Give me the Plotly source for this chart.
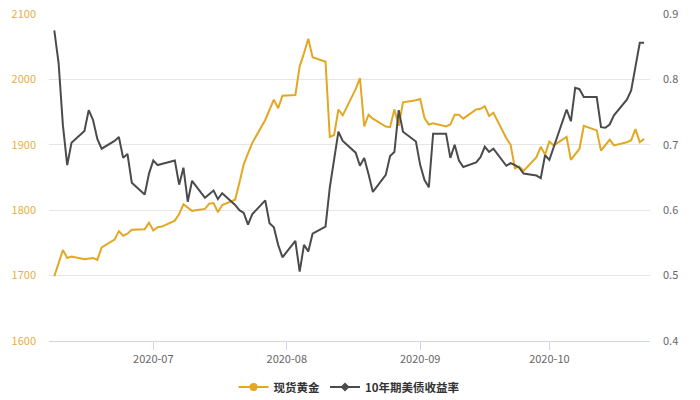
import plotly.graph_objects as go

# trading days, 2020-06-08 .. 2020-10-23
dates = [
    "2020-06-08", "2020-06-09", "2020-06-10", "2020-06-11", "2020-06-12",
    "2020-06-15", "2020-06-16", "2020-06-17", "2020-06-18", "2020-06-19",
    "2020-06-22", "2020-06-23", "2020-06-24", "2020-06-25", "2020-06-26",
    "2020-06-29", "2020-06-30", "2020-07-01", "2020-07-02", "2020-07-03",
    "2020-07-06", "2020-07-07", "2020-07-08", "2020-07-09", "2020-07-10",
    "2020-07-13", "2020-07-14", "2020-07-15", "2020-07-16", "2020-07-17",
    "2020-07-20", "2020-07-21", "2020-07-22", "2020-07-23", "2020-07-24",
    "2020-07-27", "2020-07-28", "2020-07-29", "2020-07-30", "2020-07-31",
    "2020-08-03", "2020-08-04", "2020-08-05", "2020-08-06", "2020-08-07",
    "2020-08-10", "2020-08-11", "2020-08-12", "2020-08-13", "2020-08-14",
    "2020-08-17", "2020-08-18", "2020-08-19", "2020-08-20", "2020-08-21",
    "2020-08-24", "2020-08-25", "2020-08-26", "2020-08-27", "2020-08-28",
    "2020-08-31", "2020-09-01", "2020-09-02", "2020-09-03", "2020-09-04",
    "2020-09-07", "2020-09-08", "2020-09-09", "2020-09-10", "2020-09-11",
    "2020-09-14", "2020-09-15", "2020-09-16", "2020-09-17", "2020-09-18",
    "2020-09-21", "2020-09-22", "2020-09-23", "2020-09-24", "2020-09-25",
    "2020-09-28", "2020-09-29", "2020-09-30", "2020-10-01", "2020-10-02",
    "2020-10-05", "2020-10-06", "2020-10-07", "2020-10-08", "2020-10-09",
    "2020-10-12", "2020-10-13", "2020-10-14", "2020-10-15", "2020-10-16",
    "2020-10-19", "2020-10-20", "2020-10-21", "2020-10-22", "2020-10-23",
]

gold = [
    1699, 1718, 1739, 1727, 1729,
    1725, 1726, 1727, 1724, 1743,
    1755, 1768, 1761, 1764, 1770,
    1771, 1781, 1769, 1774, 1775,
    1784, 1794, 1809, 1804, 1799,
    1802, 1810, 1811, 1797, 1808,
    1816, 1842, 1870, 1887, 1903,
    1938, 1953, 1969, 1956, 1975,
    1976, 2020, 2040, 2062, 2034,
    2027, 1912, 1915, 1954, 1945,
    1985, 2002, 1928, 1946, 1940,
    1928, 1927, 1954, 1929, 1965,
    1968, 1970, 1941, 1931, 1933,
    1928, 1931, 1946, 1946, 1940,
    1954, 1955, 1959, 1944, 1949,
    1910, 1900, 1864, 1867, 1860,
    1881, 1897, 1885, 1905, 1899,
    1912, 1877, 1886, 1894, 1929,
    1922, 1891, 1900, 1908, 1899,
    1904, 1907, 1924, 1904, 1909,
]

us10y = [
    0.875, 0.825, 0.730, 0.669, 0.703,
    0.721, 0.753, 0.738, 0.709, 0.694,
    0.706, 0.712, 0.680, 0.686, 0.642,
    0.624, 0.656, 0.676, 0.669, 0.671,
    0.676, 0.639, 0.665, 0.613, 0.645,
    0.619, 0.625, 0.630, 0.617, 0.626,
    0.608, 0.600, 0.596, 0.578, 0.594,
    0.615, 0.580, 0.574, 0.547, 0.528,
    0.553, 0.506, 0.547, 0.537, 0.564,
    0.575, 0.635, 0.680, 0.720, 0.706,
    0.688, 0.668, 0.680, 0.655, 0.628,
    0.654, 0.683, 0.689, 0.753, 0.720,
    0.705, 0.669, 0.646, 0.635, 0.717,
    0.717, 0.680, 0.700, 0.676, 0.666,
    0.673, 0.681, 0.697, 0.689, 0.694,
    0.668, 0.672, 0.669, 0.665, 0.656,
    0.653, 0.649, 0.684, 0.677, 0.697,
    0.754, 0.736, 0.787, 0.785, 0.773,
    0.773, 0.727, 0.726, 0.731, 0.745,
    0.769, 0.783, 0.817, 0.856, 0.856,
]

names = ["现货黄金", "10年期美债收益率"]

GOLD = "#e2a823"
GREY = "#4b4b4b"
FONT = "Noto Sans CJK SC"

fig = go.Figure()
fig.add_trace(go.Scatter(x=dates, y=gold, mode="lines", name=names[0],
                         line=dict(color=GOLD, width=2), showlegend=False))
fig.add_trace(go.Scatter(x=dates, y=us10y, mode="lines", name=names[1], yaxis="y2",
                         line=dict(color=GREY, width=2), showlegend=False))

# legend entries with the little markers
fig.add_trace(go.Scatter(x=[None], y=[None], mode="lines+markers", name=names[0],
                         line=dict(color=GOLD, width=2),
                         marker=dict(symbol="circle", size=8, color=GOLD)))
fig.add_trace(go.Scatter(x=[None], y=[None], mode="lines+markers", name=names[1], yaxis="y2",
                         line=dict(color=GREY, width=2),
                         marker=dict(symbol="diamond", size=7, color=GREY)))

# page body has an 8px margin, so everything is shifted up/left by 8
fig.update_layout(
    width=700, height=400,
    margin=dict(l=41, r=58, t=6, b=67, autoexpand=False),
    paper_bgcolor="white", plot_bgcolor="white",
    font=dict(family=FONT, size=11, color="#666666"),
    showlegend=True,
    legend=dict(orientation="h", x=0.5, xanchor="center",
                yref="container", y=21 / 400, yanchor="middle",
                font=dict(family=FONT, size=11.5, color="#333333", weight="bold"),
                itemwidth=30, bgcolor="rgba(0,0,0,0)"),
    xaxis=dict(
        type="date", automargin=False,
        range=["2020-06-06 18:30", "2020-10-24 09:00"],
        tick0="2020-07-01", dtick="M1", tickformat="%Y-%m",
        showgrid=False, showline=True, linecolor="#ccd6eb", linewidth=1,
        ticks="outside", ticklen=8, tickcolor="#ccd6eb",
        tickfont=dict(color="#666666", size=11),
    ),
    yaxis=dict(
        range=[1600, 2100], dtick=100, automargin=False,
        showgrid=True, gridcolor="#e6e6e6", zeroline=False,
        tickfont=dict(color="#e8b040", size=11),
        ticklabelstandoff=12, ticklabeloverflow="allow",
    ),
    yaxis2=dict(
        range=[0.4, 0.9], dtick=0.1, tickformat=".1f", automargin=False,
        overlaying="y", side="right",
        showgrid=False, zeroline=False,
        tickfont=dict(color="#666666", size=11),
        ticklabelstandoff=12, ticklabeloverflow="allow",
    ),
)

fig.write_html("out.html")
